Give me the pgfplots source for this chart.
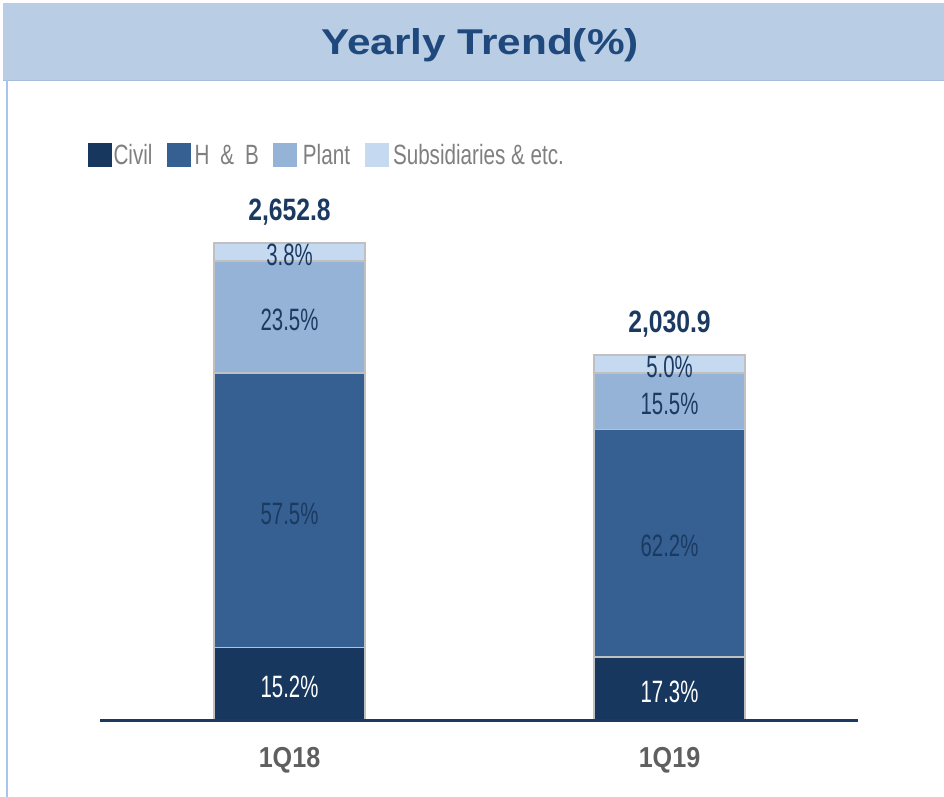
\documentclass[border=0pt]{standalone}
\usepackage{fontspec}
\setmainfont{Liberation Sans}
\newfontfamily\lblfont[FakeStretch=0.66]{Liberation Sans}
\newfontfamily\legfont[FakeStretch=0.74]{Liberation Sans}
\newfontfamily\totfont[FakeStretch=0.8]{Liberation Sans}
\newfontfamily\catfont[FakeStretch=0.87]{Liberation Sans}
\newfontfamily\ttlfont[FakeStretch=1.18]{Liberation Sans}
\usepackage{pgfplots}
\pgfplotsset{compat=1.18}
\definecolor{civil}{HTML}{17375E}
\definecolor{hb}{HTML}{366092}
\definecolor{plant}{HTML}{95B3D7}
\definecolor{subs}{HTML}{C5D9F1}
\definecolor{navy}{HTML}{1B3A62}
\definecolor{ttl}{HTML}{1F497D}
\definecolor{banner}{HTML}{B9CDE5}
\definecolor{bannerline}{HTML}{A5BEDD}
\definecolor{frame}{HTML}{A9C4EC}
\definecolor{catgrey}{HTML}{5F5F5F}
\definecolor{leggrey}{HTML}{7F7F7F}
\definecolor{edge}{HTML}{C0C0C0}

\tikzset{
  pct/.style={font=\lblfont\fontsize{31}{33}\selectfont, text=navy, yshift=-3bp},
  tot/.style={font=\totfont\fontsize{31}{33}\selectfont\bfseries,
              text=navy, anchor=south, yshift=14bp},
}

\begin{document}
\begin{tikzpicture}
  \useasboundingbox (0,0) rectangle (944bp,-797bp);
  % title banner and frame
  \fill[banner] (3bp,-3bp) rectangle (944bp,-80bp);
  \draw[bannerline, line width=1bp] (3bp,-80bp) -- (944bp,-80bp);
  \draw[frame, line width=1.5bp] (7bp,-80bp) -- (7bp,-797bp);
  \node[font=\ttlfont\fontsize{36}{40}\selectfont\bfseries, text=ttl]
    at (480bp,-45bp) {Yearly Trend(\%)};

  \begin{axis}[
    at={(100bp,-720bp)}, anchor=south west,
    scale only axis, width=758bp, height=540bp,
    xmin=-0.4987, xmax=1.4961, ymin=0, ymax=3003.3,
    ybar stacked, bar width=0.3974,
    axis line style={draw=none},
    ytick=\empty, xtick={0,1}, xticklabels={1Q18,1Q19},
    major tick length=0pt,
    xticklabel style={font=\catfont\fontsize{29}{32}\selectfont\bfseries,
                      text=catgrey, yshift=-24bp},
    clip=false,
    legend columns=-1,
    legend image code/.code={\fill[#1,draw=none] (0bp,-12bp) rectangle (24bp,12bp);},
    legend style={at={(-0.0158,1.0685)}, anchor=north west, draw=none, fill=none,
                  inner sep=0pt, outer sep=0pt,
                  font=\legfont\fontsize{28}{30}\selectfont, text=leggrey,
                  nodes={inner sep=1.5bp},
                  /tikz/every even column/.append style={column sep=13bp}},
  ]
    \addplot[fill=civil, draw=edge, line width=1.5bp] coordinates {(0,403.2) (1,351.3)};
    \addlegendentry{Civil}
    \addplot[fill=hb, draw=edge, line width=1.5bp] coordinates {(0,1525.4) (1,1263.2)};
    \addlegendentry{\hspace{2bp}H\hspace{11bp}\&\hspace{11bp}B}
    \addplot[fill=plant, draw=edge, line width=1.5bp] coordinates {(0,623.4) (1,314.8)};
    \addlegendentry{\hspace{4bp}Plant}
    \addplot[fill=subs, draw=edge, line width=1.5bp] coordinates {(0,100.8) (1,101.5)};
    \addlegendentry{\hspace{3bp}Subsidiaries \& etc.}

    \coordinate (b0) at (axis cs:-0.4987,0);
    \coordinate (b1) at (axis cs:1.4961,0);
    \coordinate (c1) at (axis cs:0,201.6);
    \coordinate (h1) at (axis cs:0,1165.5);
    \coordinate (p1) at (axis cs:0,2239.7);
    \coordinate (s1) at (axis cs:0,2602.4);
    \coordinate (c2) at (axis cs:1,175.7);
    \coordinate (h2) at (axis cs:1,982.9);
    \coordinate (p2) at (axis cs:1,1771.9);
    \coordinate (s2) at (axis cs:1,1980.2);
    \coordinate (t1) at (axis cs:0,2652.8);
    \coordinate (t2) at (axis cs:1,2030.9);
  \end{axis}

  \draw[navy, line width=3bp] (b0) -- (b1);
  \node[pct, text=white] at (c1) {15.2\%};
  \node[pct] at (h1) {57.5\%};
  \node[pct] at (p1) {23.5\%};
  \node[pct] at (s1) {3.8\%};
  \node[pct, text=white] at (c2) {17.3\%};
  \node[pct] at (h2) {62.2\%};
  \node[pct] at (p2) {15.5\%};
  \node[pct] at (s2) {5.0\%};
  \node[tot] at (t1) {2,652.8};
  \node[tot] at (t2) {2,030.9};
\end{tikzpicture}
\end{document}
